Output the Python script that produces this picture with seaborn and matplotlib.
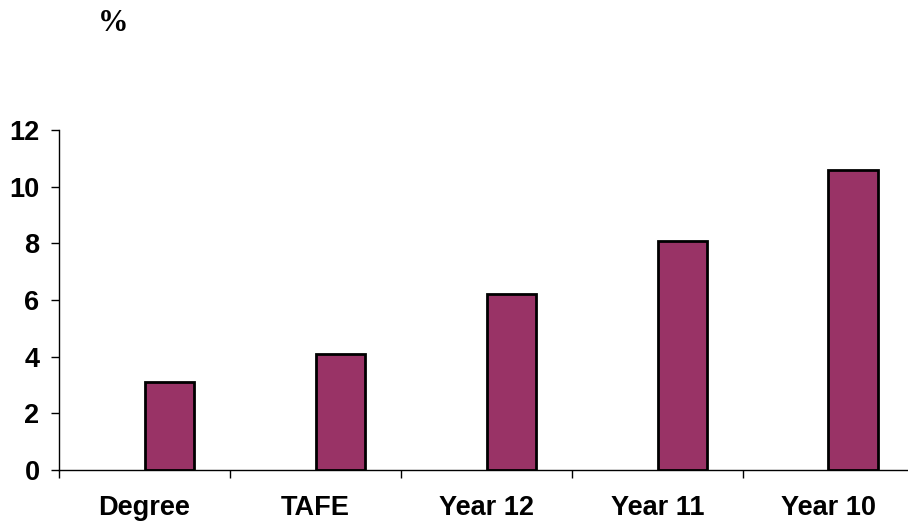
import pandas as pd
import seaborn as sns
import matplotlib.pyplot as plt
import numpy as np

categories = ['Degree', 'TAFE', 'Year 12', 'Year 11', 'Year 10']
rates = [3.1, 4.1, 6.2, 8.1, 10.6]
y_ticks = [0, 2, 4, 6, 8, 10, 12]

# an empty first series keeps the bars to the right of each category centre, like the original
data = pd.DataFrame({
    'category': categories * 2,
    'series': ['blank'] * len(categories) + ['rate'] * len(categories),
    'val': [np.nan] * len(categories) + rates,
})

sns.set_style("white")
plt.rcParams['font.family'] = ['Liberation Sans', 'DejaVu Sans']
plt.rcParams['text.color'] = 'black'
plt.rcParams['xtick.color'] = 'black'
plt.rcParams['ytick.color'] = 'black'

fig = plt.figure(figsize=(9.08, 5.28), dpi=100)
ax = fig.add_axes([0.065, 0.1098, 0.9416, 0.644])

sns.barplot(x='category', y='val', hue='series', data=data, order=categories,
            hue_order=['blank', 'rate'], palette={'blank': '#993366', 'rate': '#993366'},
            width=0.574, dodge=True, edgecolor='black', linewidth=2, saturation=1,
            legend=False, ax=ax)

ax.set_xlim(-0.5, len(categories) - 0.5)
ax.set_ylim(0, 12)
ax.set_yticks(y_ticks)
ax.set_yticklabels([str(t) for t in y_ticks], fontsize=19.5, fontweight='bold')
ax.set_xticks(range(len(categories)))
ax.set_xticklabels(categories, fontsize=19.5, fontweight='bold')
ax.set_xticks(np.arange(-0.5, len(categories), 1), minor=True)
ax.tick_params(axis='x', which='major', length=0, pad=18, bottom=True)
ax.tick_params(axis='x', which='minor', length=6, width=1, direction='out', bottom=True)
ax.tick_params(axis='y', length=6, width=1, direction='out', pad=8, left=True)
ax.set_xlabel('')
ax.set_ylabel('')

for side in ['top', 'right']:
    ax.spines[side].set_visible(False)
for side in ['left', 'bottom']:
    ax.spines[side].set_color('black')
    ax.spines[side].set_linewidth(1)

fig.text(0.125, 0.955, '%', fontsize=22, fontweight='bold', family='Liberation Serif',
         ha='center', va='center')

plt.savefig('out.png', dpi=100)
